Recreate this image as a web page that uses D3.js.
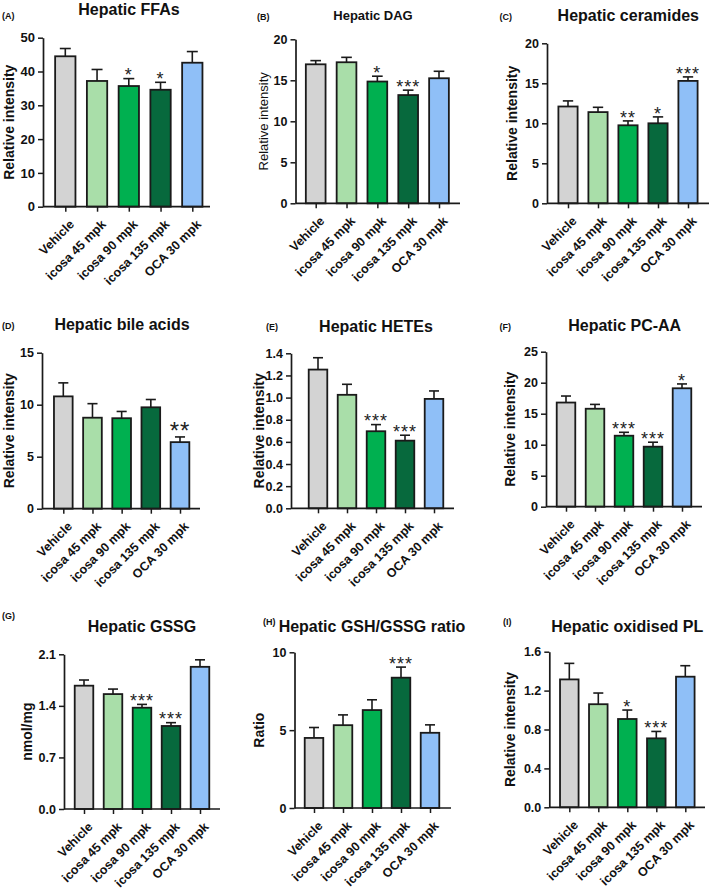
<!DOCTYPE html>
<html><head><meta charset="utf-8">
<script src="https://cdn.jsdelivr.net/npm/d3@7"></script>
<style>
body{margin:0;background:#fff}
svg{display:block}
text{font-family:"Liberation Sans",Arial,Helvetica,sans-serif}
</style>
</head><body>
<svg id="c" width="709" height="892"></svg>
<script>
// ---------- DATA ----------
const categories = ["Vehicle", "icosa 45 mpk", "icosa 90 mpk", "icosa 135 mpk", "OCA 30 mpk"];
const barColors = ["#d3d3d3", "#a9dea9", "#00b050", "#07693d", "#8fbff7"];

const ffaMean = [44.5, 37.2, 35.7, 34.6, 42.6];
const ffaSem  = [2.3, 3.4, 2.2, 2.2, 3.3];
const ffaStars = ["", "", "*", "*", ""];
const ffaTicks = [0, 10, 20, 30, 40, 50];

const dagMean = [16.95, 17.2, 14.85, 13.2, 15.25];
const dagSem  = [0.45, 0.6, 0.65, 0.6, 0.85];
const dagStars = ["", "", "*", "***", ""];
const dagTicks = [0, 5, 10, 15, 20];

const cerMean = [12.1, 11.4, 9.75, 10.0, 15.3];
const cerSem  = [0.7, 0.6, 0.55, 0.8, 0.5];
const cerStars = ["", "", "**", "*", "***"];
const cerTicks = [0, 5, 10, 15, 20];

const baMean = [10.8, 8.75, 8.7, 9.75, 6.4];
const baSem  = [1.3, 1.35, 0.65, 0.75, 0.5];
const baStars = ["", "", "", "", "**"];
const baTicks = [0, 5, 10, 15];

const heteMean = [1.253, 1.025, 0.696, 0.611, 0.988];
const heteSem  = [0.107, 0.095, 0.06, 0.049, 0.072];
const heteStars = ["", "", "***", "***", ""];
const heteTicks = [0, 0.2, 0.4, 0.6, 0.8, 1.0, 1.2, 1.4];

const pcaaMean = [16.8, 15.8, 11.45, 9.68, 19.1];
const pcaaSem  = [1.05, 0.7, 0.55, 0.72, 0.7];
const pcaaStars = ["", "", "***", "***", "*"];
const pcaaTicks = [0, 5, 10, 15, 20, 25];

const gssgMean = [1.674, 1.56, 1.375, 1.127, 1.93];
const gssgSem  = [0.077, 0.068, 0.045, 0.045, 0.095];
const gssgStars = ["", "", "***", "***", ""];
const gssgTicks = [0, 0.7, 1.4, 2.1];

const ratioMean = [4.5, 5.32, 6.29, 8.37, 4.83];
const ratioSem  = [0.67, 0.66, 0.66, 0.68, 0.51];
const ratioStars = ["", "", "", "***", ""];
const ratioTicks = [0, 5, 10];

const oxplMean = [1.315, 1.06, 0.908, 0.709, 1.343];
const oxplSem  = [0.165, 0.115, 0.092, 0.071, 0.113];
const oxplStars = ["", "", "*", "***", ""];
const oxplTicks = [0, 0.4, 0.8, 1.2, 1.6];

const panelLetters = ["(A)", "(B)", "(C)", "(D)", "(E)", "(F)", "(G)", "(H)", "(I)"];
const panelTitles = ["Hepatic FFAs", "Hepatic DAG", "Hepatic ceramides", "Hepatic bile acids",
  "Hepatic HETEs", "Hepatic PC-AA", "Hepatic GSSG", "Hepatic GSH/GSSG ratio", "Hepatic oxidised PL"];
const yLabels = ["Relative intensity", "Relative intensity", "Relative intensity", "Relative intensity",
  "Relative intensity", "Relative intensity", "nmol/mg", "Ratio", "Relative intensity"];
const tickFormats = ["d", "d", "d", "d", ".1f", "d", ".1f", "d", ".1f"];

const series = [
  [ffaMean, ffaSem, ffaStars, ffaTicks],
  [dagMean, dagSem, dagStars, dagTicks],
  [cerMean, cerSem, cerStars, cerTicks],
  [baMean, baSem, baStars, baTicks],
  [heteMean, heteSem, heteStars, heteTicks],
  [pcaaMean, pcaaSem, pcaaStars, pcaaTicks],
  [gssgMean, gssgSem, gssgStars, gssgTicks],
  [ratioMean, ratioSem, ratioStars, ratioTicks],
  [oxplMean, oxplSem, oxplStars, oxplTicks]
];

// ---------- LAYOUT (positions only) ----------
const layout = [
  {ax:43,   ae:210, yt:37.7,  yb:206.7, c0:65.3,  cN:192.3, tx:129,   ty:15,    ts:16, lx:2,   ly:19,    lo:29,   lb:true,  ss:18},
  {ax:295.5,ae:460, yt:39.3,  yb:203.3, c0:315.7, cN:439,   tx:373,   ty:19.5,  ts:13, lx:257, ly:19.5,  lo:28,   lb:false, ss:18},
  {ax:547,  ae:709, yt:43.3,  yb:203.3, c0:568,   cN:688,   tx:628.3, ty:20.5,  ts:16, lx:499.5,ly:19.5, lo:30,   lb:true,  ss:18},
  {ax:42,   ae:200, yt:352.7, yb:508.7, c0:63.3,  cN:180,   tx:122,   ty:330,   ts:16, lx:2,   ly:328.5, lo:28.5, lb:true,  ss:24},
  {ax:291,  ae:454, yt:353.3, yb:508.3, c0:318,   cN:434,   tx:376,   ty:331.5, ts:16, lx:266, ly:329.5, lo:27,   lb:true,  ss:18},
  {ax:546,  ae:702, yt:351.7, yb:506.7, c0:566,   cN:682,   tx:624.7, ty:331,   ts:16, lx:499.5,ly:329.5,lo:31,   lb:true,  ss:18},
  {ax:64,   ae:220, yt:654.3, yb:809,   c0:84,    cN:200,   tx:142,   ty:631.5, ts:16, lx:2,   ly:618.5, lo:32,   lb:true,  ss:18},
  {ax:294.5,ae:451, yt:652.3, yb:808,   c0:314,   cN:430,   tx:372,   ty:631.5, ts:16, lx:263, ly:625,   lo:31,   lb:true,  ss:18},
  {ax:549.3,ae:705, yt:651.7, yb:807.3, c0:569.3, cN:685.3, tx:627.2, ty:631.5, ts:16, lx:503, ly:625,   lo:34,   lb:true,  ss:18}
];

const svg = d3.select("#c");
const ink = "#1a1a1a";

series.forEach(([mean, sem, stars, ticks], i) => {
  const L = layout[i];
  const g = svg.append("g");
  const ymax = ticks[ticks.length - 1];
  const y = d3.scaleLinear().domain([0, ymax]).range([L.yb, L.yt]);
  const x = d3.scalePoint().domain(categories).range([L.c0, L.cN]);
  const bw = x.step() * 0.64;
  const rows = categories.map((c, k) => ({c, m: mean[k], s: sem[k], st: stars[k], col: barColors[k]}));

  // bars
  g.selectAll("rect.bar").data(rows).join("rect")
    .attr("class", "bar")
    .attr("x", d => x(d.c) - bw / 2)
    .attr("y", d => y(d.m))
    .attr("width", bw)
    .attr("height", d => L.yb - y(d.m))
    .attr("fill", d => d.col)
    .attr("stroke", ink).attr("stroke-width", 1.8);

  // error bars
  g.selectAll("line.eb").data(rows).join("line")
    .attr("class", "eb")
    .attr("x1", d => x(d.c)).attr("x2", d => x(d.c))
    .attr("y1", d => y(d.m)).attr("y2", d => y(d.m + d.s))
    .attr("stroke", ink).attr("stroke-width", 1.6);
  g.selectAll("line.cap").data(rows).join("line")
    .attr("class", "cap")
    .attr("x1", d => x(d.c) - bw * 0.27).attr("x2", d => x(d.c) + bw * 0.27)
    .attr("y1", d => y(d.m + d.s)).attr("y2", d => y(d.m + d.s))
    .attr("stroke", ink).attr("stroke-width", 1.6);

  // stars
  g.selectAll("text.star").data(rows.filter(d => d.st)).join("text")
    .attr("class", "star")
    .attr("x", d => x(d.c))
    .attr("y", d => y(d.m + d.s) + (L.ss > 20 ? 2.4 : 2.8))
    .attr("text-anchor", "middle")
    .attr("font-size", L.ss)
    .attr("letter-spacing", 1)
    .attr("fill", "#222")
    .text(d => d.st);

  // y axis
  const yAxis = d3.axisLeft(y).tickValues(ticks).tickSize(5).tickSizeOuter(0)
    .tickFormat(d3.format(tickFormats[i]));
  const ya = g.append("g").attr("transform", `translate(${L.ax},0)`).call(yAxis);
  ya.select(".domain").attr("stroke", ink).attr("stroke-width", 1.7);
  ya.selectAll(".tick line").attr("stroke", ink).attr("stroke-width", 1.5);
  ya.selectAll(".tick text").attr("font-size", i === 0 ? 13 : 12.5).attr("font-weight", "bold")
    .attr("fill", "#111").attr("font-family", '"Liberation Sans",Arial,sans-serif');

  // x axis
  const xAxis = d3.axisBottom(x).tickSize(5).tickSizeOuter(0);
  const xa = g.append("g").attr("transform", `translate(0,${L.yb})`).call(xAxis);
  xa.select(".domain").remove();
  xa.append("line").attr("x1", L.ax).attr("x2", L.ae).attr("y1", 0).attr("y2", 0)
    .attr("stroke", ink).attr("stroke-width", 1.7);
  xa.selectAll(".tick line").attr("stroke", ink).attr("stroke-width", 1.5);
  xa.selectAll(".tick text")
    .attr("y", 0).attr("dy", 0)
    .attr("text-anchor", "end")
    .attr("transform", "translate(9,18.5) rotate(-45)")
    .attr("font-size", 12.5).attr("font-weight", "bold").attr("fill", "#111")
    .attr("font-family", '"Liberation Sans",Arial,sans-serif');

  // y label
  g.append("text")
    .attr("transform", `translate(${L.ax - L.lo},${(L.yt + L.yb) / 2}) rotate(-90)`)
    .attr("text-anchor", "middle")
    .attr("font-size", L.lb ? 14 : 13)
    .attr("font-weight", L.lb ? "bold" : "normal")
    .attr("fill", "#111")
    .text(yLabels[i]);

  // title
  g.append("text").attr("x", L.tx).attr("y", L.ty).attr("text-anchor", "middle")
    .attr("font-size", L.ts).attr("font-weight", "bold").attr("fill", "#111")
    .text(panelTitles[i]);
  // panel letter
  g.append("text").attr("x", L.lx).attr("y", L.ly)
    .attr("font-size", 9).attr("font-weight", "bold").attr("fill", "#111")
    .text(panelLetters[i]);
});
</script>
</body></html>
